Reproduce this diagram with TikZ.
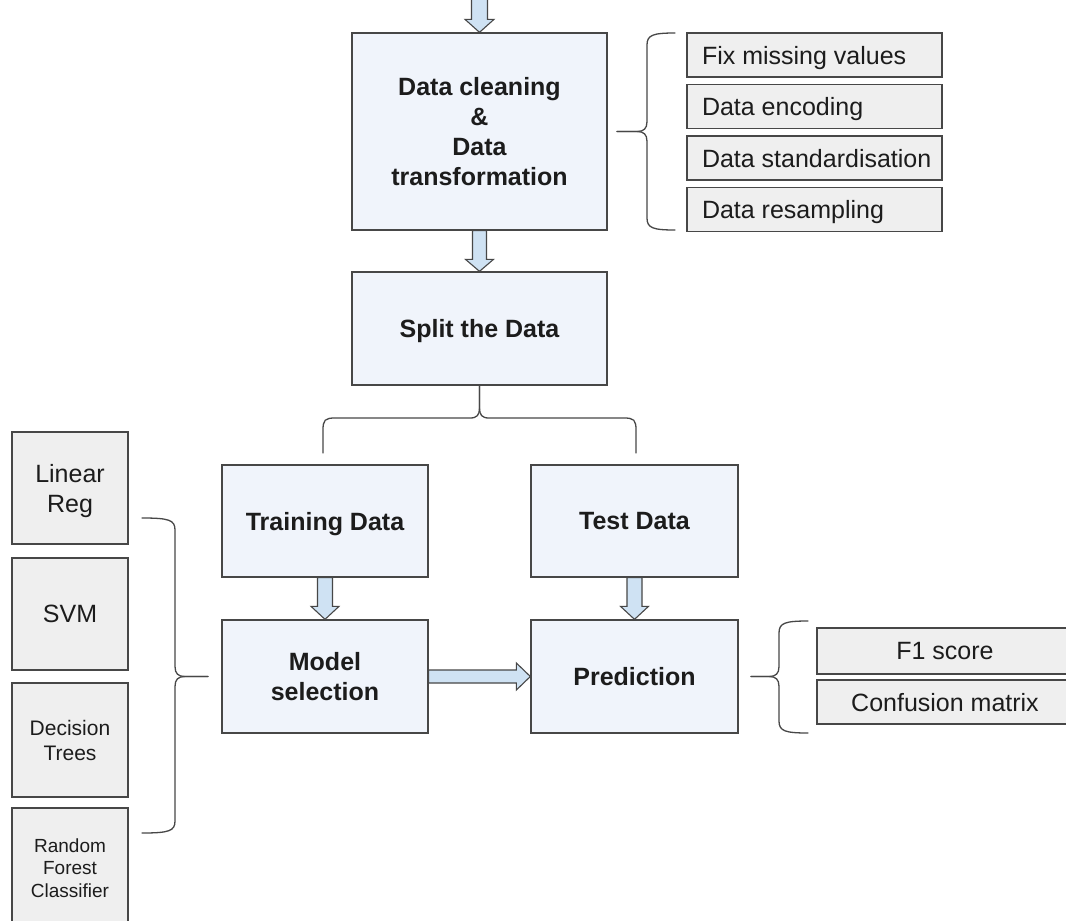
\documentclass[tikz,border=0pt]{standalone}
\usepackage{fontspec}
\setmainfont{Liberation Sans}
\usetikzlibrary{calc}
\definecolor{boxblue}{HTML}{F0F4FB}
\definecolor{arrowblue}{HTML}{CFE2F3}
\definecolor{boxgray}{HTML}{EFEFEF}
\definecolor{edge}{HTML}{474747}
\definecolor{ink}{HTML}{1C1C1C}
\newcommand{\leftbox}[1]{\makebox[225pt][l]{#1}}
% vertical block arrow from #1 to #2 (shaft half width, head half width, head length)
\newcommand{\vbarrow}[5]{%
  \draw[barrow] ($(#1)+(-#3,0)$) -- ($(#2)+(-#3,-#5)$) -- ($(#2)+(-#4,-#5)$) -- (#2)
    -- ($(#2)+(#4,-#5)$) -- ($(#2)+(#3,-#5)$) -- ($(#1)+(#3,0)$) -- cycle;}
\newcommand{\hbarrow}[5]{%
  \draw[barrow] ($(#1)+(0,-#3)$) -- ($(#2)+(-#5,-#3)$) -- ($(#2)+(-#5,-#4)$) -- (#2)
    -- ($(#2)+(-#5,#4)$) -- ($(#2)+(-#5,#3)$) -- ($(#1)+(0,#3)$) -- cycle;}
% side brace: #1 direction (+1 tip right, -1 tip left), #2 end x, #3 spine x, #4 tip x, #5 top y, #6 tip y, #7 bottom y
\newcommand{\sidebrace}[7]{%
  \draw[bracepath] (#2,#5) .. controls ({#3-6*(#1)},#5) and (#3,{#5+2}) .. (#3,{#5+12})
    -- (#3,{#6-10}) .. controls (#3,{#6-3}) and ({#3+3*(#1)},#6) .. ({#3+10*(#1)},#6) -- (#4,#6);
  \draw[bracepath] (#4,#6) -- ({#3+10*(#1)},#6) .. controls ({#3+3*(#1)},#6) and (#3,{#6+3}) .. (#3,{#6+10})
    -- (#3,{#7-12}) .. controls (#3,{#7-2}) and ({#3-6*(#1)},#7) .. (#2,#7);}
\begin{document}
\begin{tikzpicture}[x=1pt,y=-1pt,
  mainbox/.style={draw=edge, line width=1.3pt, fill=boxblue, inner sep=0pt, align=center,
    font=\fontsize{25}{30}\selectfont\bfseries, text=ink, text depth=0pt},
  graybox/.style={draw=edge, line width=1.3pt, fill=boxgray, inner sep=0pt, align=center,
    font=\fontsize{25}{30}\selectfont, text=ink, text depth=0pt},
  listbox/.style={graybox, minimum width=255pt, minimum height=44pt, inner xsep=15pt},
  barrow/.style={draw=edge, line width=1.1pt, fill=arrowblue, line join=miter},
  bracepath/.style={draw=edge, line width=1.3pt, line cap=round},
]
\useasboundingbox (0,0) rectangle (1066,921);
\fill[white] (0,0) rectangle (1066,921);
\clip (0,0) rectangle (1066,921);

% main flow boxes
\node[mainbox, minimum width=255pt, minimum height=197pt] (clean) at (479.5,131.5)
  {Data cleaning\\\&\\Data\\transformation};
\node[mainbox, minimum width=255pt, minimum height=113pt] (split) at (479.5,328.5) {Split the Data};
\node[mainbox, minimum width=206pt, minimum height=112pt] (train) at (325,521) {Training Data};
\node[mainbox, minimum width=207pt, minimum height=112pt] (test) at (634.5,521) {Test Data};
\node[mainbox, minimum width=206pt, minimum height=113pt] (model) at (325,676.5) {Model\\selection};
\node[mainbox, minimum width=207pt, minimum height=113pt] (pred) at (634.5,676.5) {Prediction};

% data cleaning steps
\node[listbox] (fix) at (814.5,55) {\leftbox{Fix missing values}};
\node[listbox] (enc) at (814.5,106.5) {\leftbox{Data encoding}};
\node[listbox] (std) at (814.5,158) {\leftbox{Data standardisation}};
\node[listbox] (res) at (814.5,209.5) {\leftbox{Data resampling}};

% models
\node[graybox, minimum width=116pt, minimum height=112pt] (lin) at (70,488) {Linear\\Reg};
\node[graybox, minimum width=116pt, minimum height=112pt] (svm) at (70,614) {SVM};
\node[graybox, minimum width=116pt, minimum height=114pt, font=\fontsize{21}{25}\selectfont] (dt) at (70,740) {Decision\\Trees};
\node[graybox, minimum width=116pt, minimum height=120pt, font=\fontsize{19}{22.5}\selectfont] (rf) at (70,868) {Random\\Forest\\Classifier};

% metrics
\node[graybox, minimum width=256pt, minimum height=46pt] (f1) at (945,651) {F1 score};
\node[graybox, minimum width=256pt, minimum height=44pt] (cm) at (945,702) {Confusion matrix};

% block arrows
\coordinate (in) at (479.5,-10);
\vbarrow{in}{clean.north}{8}{14.5}{13}
\vbarrow{clean.south}{split.north}{7}{14}{12}
\vbarrow{train.south}{model.north}{7.5}{14}{13}
\vbarrow{test.south}{pred.north}{7.5}{14}{13}
\hbarrow{model.east}{pred.west}{6.5}{13.5}{14}

% braces
\sidebrace{-1}{675}{647}{617}{33}{131.5}{230}
\sidebrace{1}{142}{175}{208}{518}{676.5}{833}
\sidebrace{-1}{808}{779}{751}{621}{676.5}{733}

% brace under split
\draw[bracepath] (323,453) -- (323,430) .. controls (323,420) and (325,418) .. (335,418)
  -- (470,418) .. controls (477,418) and (479.5,415) .. (479.5,408) -- (split.south);
\draw[bracepath] (split.south) -- (479.5,408) .. controls (479.5,415) and (482,418) .. (489,418)
  -- (624,418) .. controls (634,418) and (636,420) .. (636,430) -- (636,453);
\end{tikzpicture}
\end{document}
